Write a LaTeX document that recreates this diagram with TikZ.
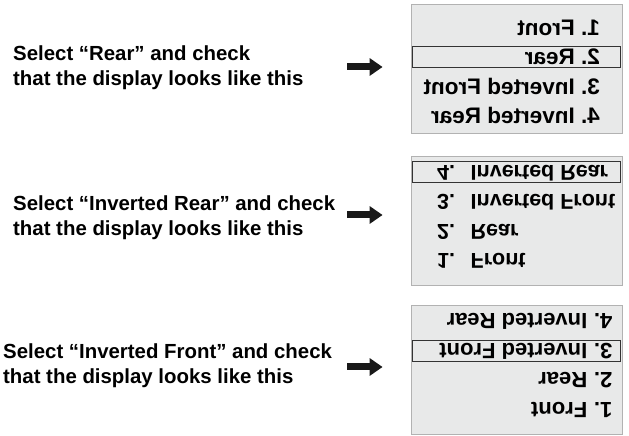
\documentclass[tikz,border=0pt]{standalone}
\usepackage{fontspec}
\setmainfont{Liberation Sans}
\usetikzlibrary{arrows.meta}
\definecolor{menugray}{RGB}{232,233,233}
\tikzset{
    note/.style={anchor=base west, align=left, inner sep=0pt, font=\fontsize{20.4}{25}\selectfont\bfseries},
    menubox/.style={draw=gray!60, line width=.8pt, fill=menugray, minimum width=211pt, minimum height=129pt, inner sep=0pt},
    pick/.style={draw=black!80, line width=1pt, minimum width=208pt, minimum height=21pt, inner sep=0pt, transform shape},
    entry/.style={anchor=west, inner sep=0pt, text height=15pt, text depth=0pt, transform shape, font=\fontsize{22.5}{22.5}\selectfont\bfseries},
    fat/.style={line width=7pt, -{Triangle[length=13pt,width=17pt]}, black!90}
}
\begin{document}
\begin{tikzpicture}[x=1pt, y=1pt]
\useasboundingbox (0,0) rectangle (629,436);
% instructions
\node[note] (s1) at (13,350) {Select “Rear” and check\\that the display looks like this};
\node[note] (s2) at (13,200) {Select “Inverted Rear” and check\\that the display looks like this};
\node[note] (s3) at (3,52) {Select “Inverted Front” and check\\that the display looks like this};
% menus
\node[menubox] (m1) at (516.5,367.5) {};
\node[menubox] (m2) at (516.5,215) {};
\node[menubox] (m3) at (516.5,66.5) {};
% mirrored
\begin{scope}[shift={(m1.center)}, xscale=-1]
    \node[pick] (m1sel) at (0,11) {};
    \foreach \n/\t [count=\i] in {1./Front, 2./Rear, 3./Inverted Front, 4./Inverted Rear}
    {
        \node[entry] (m1n\i) at (-83.5,{40.5-29.5*(\i-1)}) {\n};
        \node[entry] (m1t\i) at (-58.5,{40.5-29.5*(\i-1)}) {\t};
    }
\end{scope}
% upside down
\begin{scope}[shift={(m2.center)}, yscale=-1, entry/.append style={font=\fontsize{21.5}{21.5}\selectfont\bfseries}]
    \node[pick] (m2sel) at (0,-49) {};
    \foreach \n/\t [count=\i] in {1./Front, 2./Rear, 3./Inverted Front, 4./Inverted Rear}
    {
        \node[entry] (m2n\i) at (-79.5,{40.5-29.5*(\i-1)}) {\n};
        \node[entry] (m2t\i) at (-46,{40.5-29.5*(\i-1)}) {\t};
    }
\end{scope}
% both
\begin{scope}[shift={(m3.center)}, rotate=180, entry/.append style={font=\fontsize{22}{22}\selectfont\bfseries}]
    \node[pick] (m3sel) at (0,-18.5) {};
    \foreach \n/\t [count=\i] in {1./Front, 2./Rear, 3./Inverted Front, 4./Inverted Rear}
    {
        \node[entry] (m3n\i) at (-96,{40.5-29.5*(\i-1)}) {\n};
        \node[entry] (m3t\i) at (-71,{40.5-29.5*(\i-1)}) {\t};
    }
\end{scope}
% arrows
\coordinate (a1) at (347,369);
\coordinate (a2) at (347,221);
\coordinate (a3) at (347,69);
\foreach \k in {1,2,3}
    \draw[fat] (a\k) -- ([xshift=-28pt]m\k.west |- a\k);
\end{tikzpicture}
\end{document}
